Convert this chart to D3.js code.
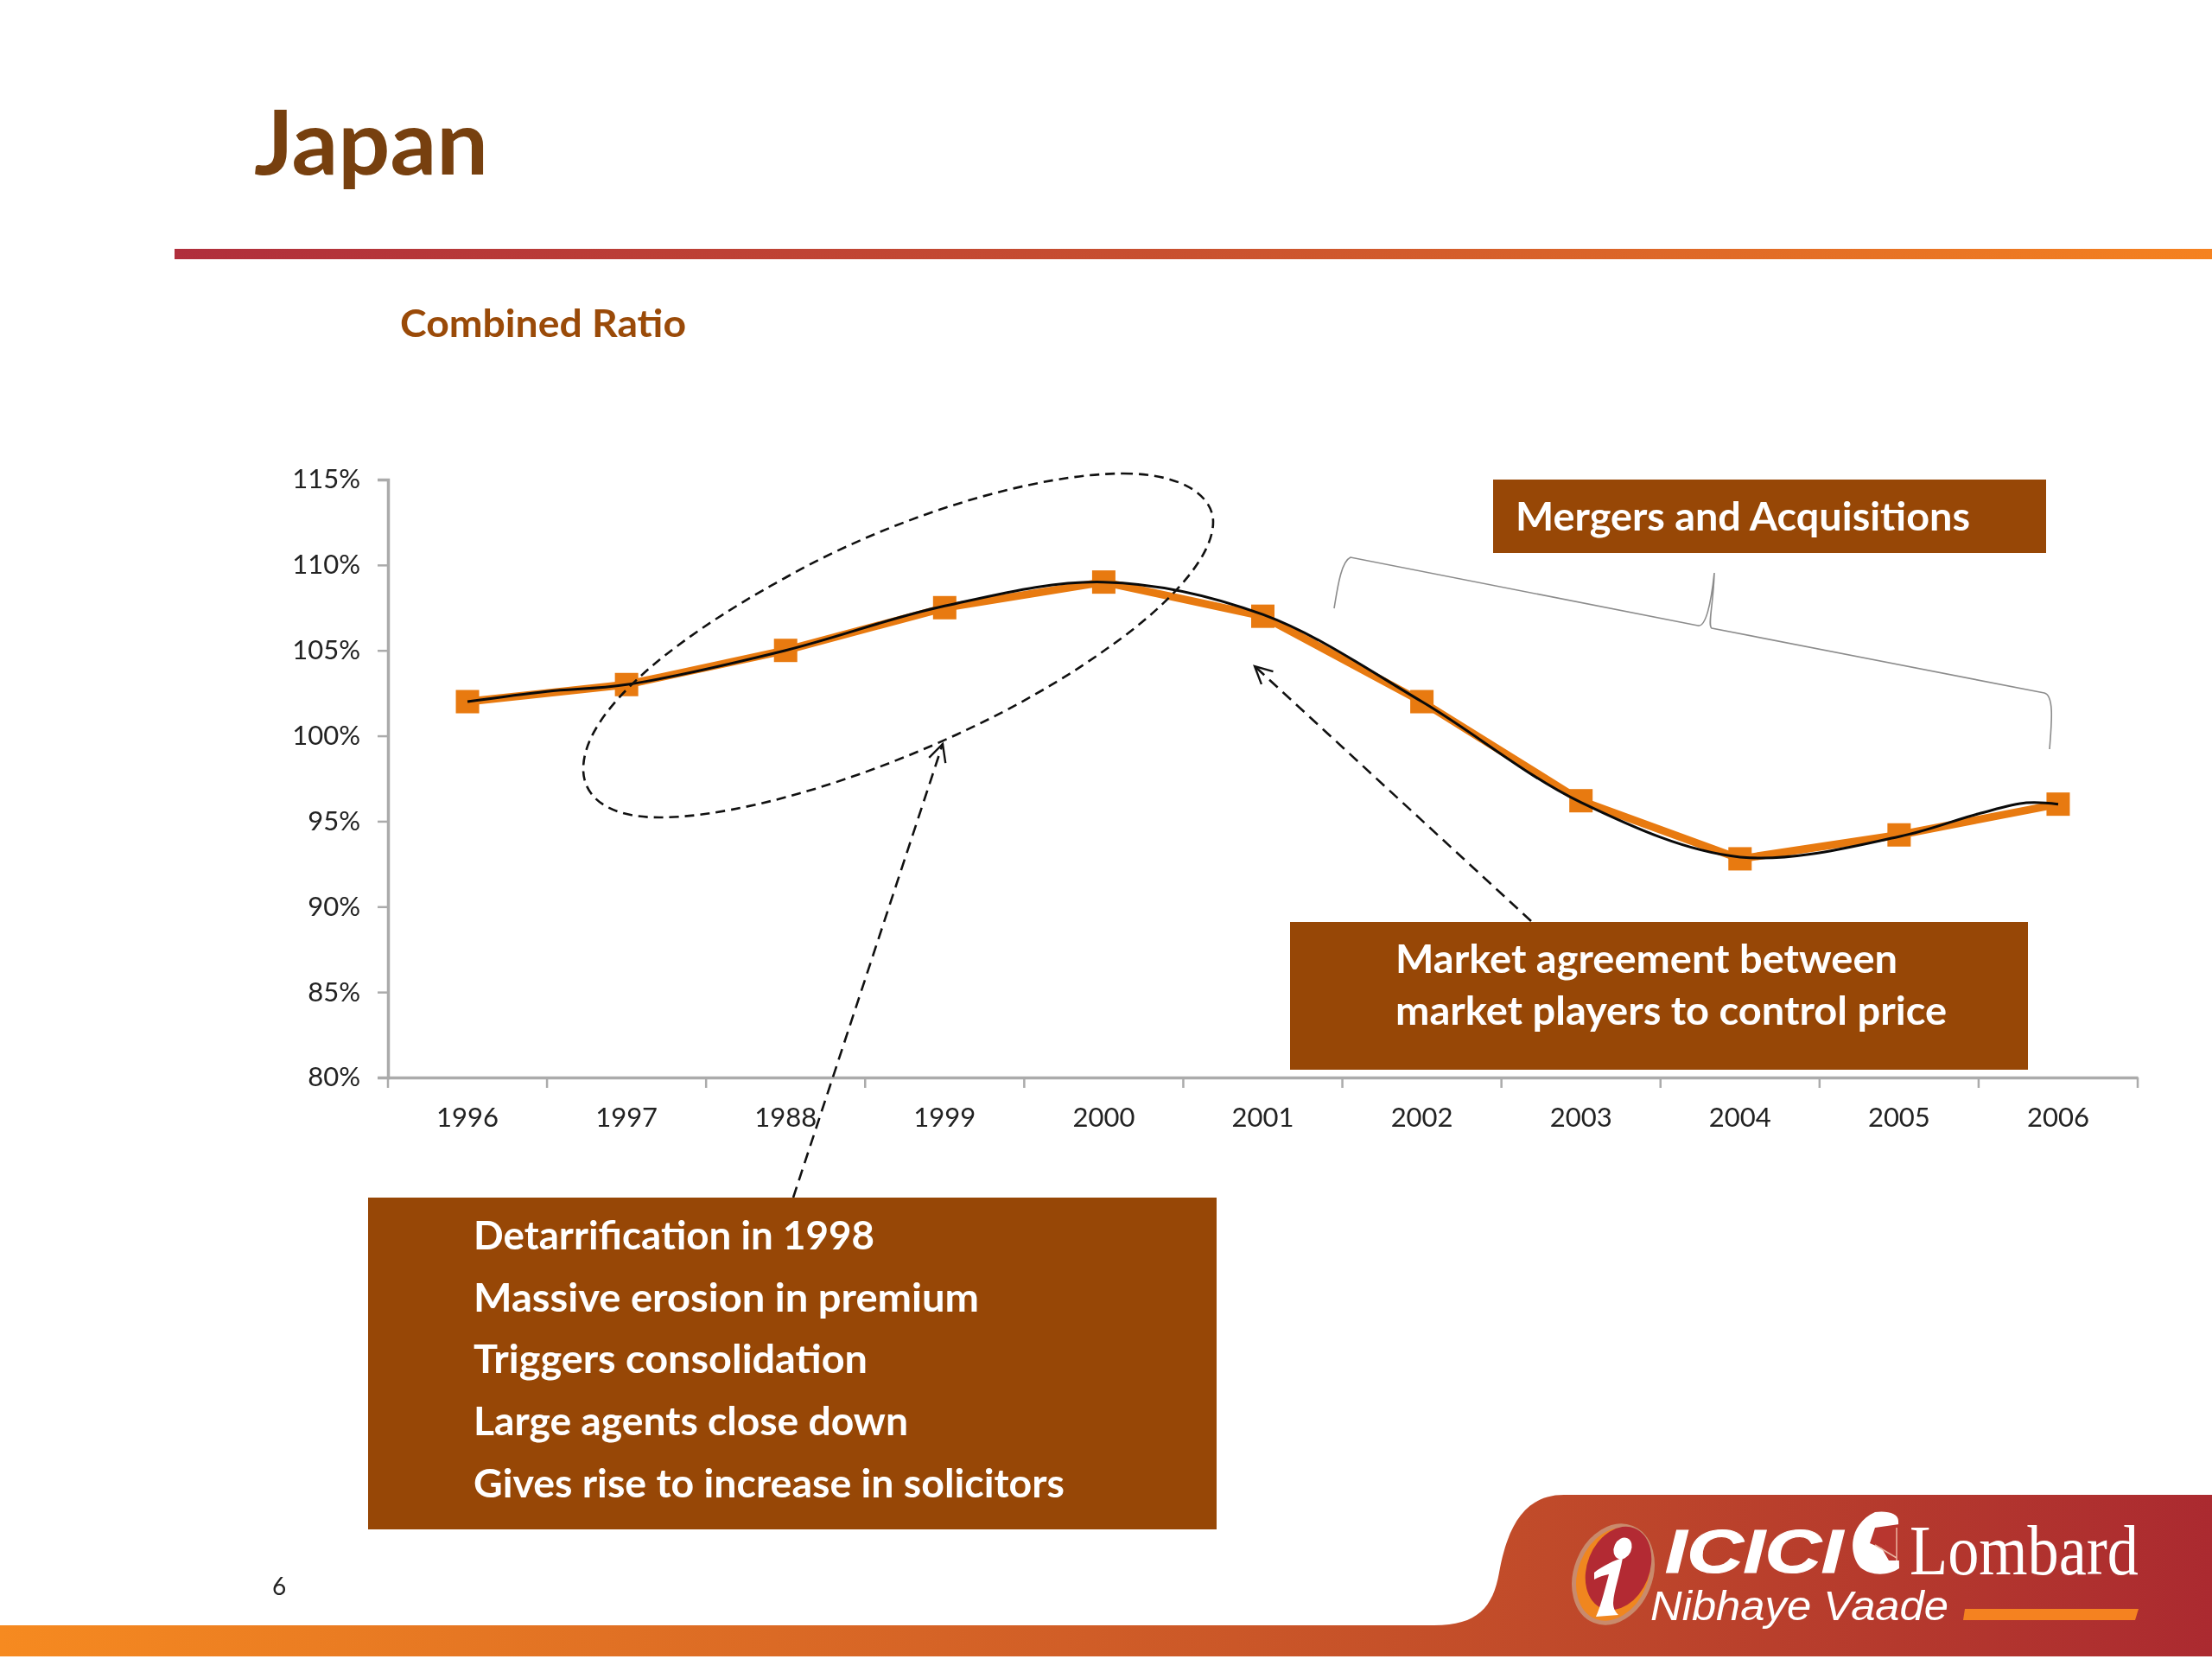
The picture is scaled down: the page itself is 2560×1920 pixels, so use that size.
<!DOCTYPE html>
<html><head><meta charset="utf-8">
<script src="https://cdn.jsdelivr.net/npm/d3@7/dist/d3.min.js"></script>
<style>html,body{margin:0;padding:0;background:#fff}svg{display:block;filter:blur(.7px)}text{font-family:Lato,"Open Sans",sans-serif}</style>
</head><body><svg id="c" width="2560" height="1920"></svg>
<script>
const categories=["1996","1997","1988","1999","2000","2001","2002","2003","2004","2005","2006"];
const combinedRatio=[102,103,105,107.5,109,107,102,96.2,92.8,94.2,96];
const trendIndex=[0,0.5,1,2,3,4,5,6,7,8,9,9.5,9.8,10];
const trendValues=[102,102.6,103,105,107.6,109,107.1,102,96.1,92.9,94.1,95.44,96.08,96];
const yTicks=[80,85,90,95,100,105,110,115];
const detarLines=["Detarrification in 1998","Massive erosion in premium","Triggers consolidation","Large agents close down","Gives rise to increase in solicitors"];
const detarWidths=[464,585,456,503,684];
const marketLines=["Market agreement between","market players to control price"];
const marketWidths=[581,638];

const svg=d3.select("#c");
const defs=svg.append("defs");
function grad(id,stops){const g=defs.append("linearGradient").attr("id",id);stops.forEach(s=>g.append("stop").attr("offset",s[0]).attr("stop-color",s[1]));}
grad("rule",[[0,"#b02e3c"],[.5,"#c9512f"],[1,"#f58220"]]);
const bg=defs.append("linearGradient").attr("id","bottom").attr("gradientUnits","userSpaceOnUse").attr("x1",0).attr("x2",2560).attr("y1",0).attr("y2",0);
[[0,"#f68a20"],[.7,"#c04a2a"],[1,"#ab2a30"]].forEach(s=>bg.append("stop").attr("offset",s[0]).attr("stop-color",s[1]));
const mk=defs.append("marker").attr("id","arrow").attr("viewBox","-22 -12 26 24").attr("markerUnits","userSpaceOnUse").attr("markerWidth",26).attr("markerHeight",24).attr("refX",0).attr("refY",0).attr("orient","auto");
mk.append("path").attr("d","M-20,-10L0,0L-20,10").attr("fill","none").attr("stroke","#111").attr("stroke-width",2.4);

function txt(s,x,y,size,fill,weight,width,anchor){
  const t=svg.append("text").attr("x",x).attr("y",y).attr("font-size",size).attr("fill",fill).attr("font-weight",weight||400).attr("text-anchor",anchor||"start").text(s);
  if(width)t.attr("textLength",width).attr("lengthAdjust","spacingAndGlyphs");
  return t;
}
// header
txt("Japan",294,202,104,"#77400f",700,271);
svg.append("rect").attr("x",202).attr("y",288).attr("width",2358).attr("height",12).attr("fill","url(#rule)");
txt("Combined Ratio",463,390,43,"#9a4a08",700,331);

// scales
const x=d3.scaleBand().domain(d3.range(categories.length)).range([449,2474]);
const y=d3.scaleLinear().domain([80,115]).range([1247,555]);
const cx=i=>x(0)+x.bandwidth()/2+i*x.step();

// axes
const gy=svg.append("g").attr("transform","translate(449,0)").call(d3.axisLeft(y).tickValues(yTicks).tickSize(12).tickPadding(20).tickFormat(d=>d+"%"));
const gx=svg.append("g").attr("transform","translate(0,1247)").call(d3.axisBottom(x).tickSize(0).tickPadding(35).tickFormat(i=>categories[i]));
[gy,gx].forEach(g=>{
  g.selectAll(".domain").attr("stroke","#ababab").attr("stroke-width",3.5);
  g.selectAll(".tick line").attr("stroke","#ababab").attr("stroke-width",2.5);
  g.selectAll("text").attr("font-size",31).attr("fill","#222").style("font-family","Lato");
});
svg.append("g").selectAll("line").data(d3.range(categories.length+1)).join("line")
  .attr("x1",i=>449+i*x.step()).attr("x2",i=>449+i*x.step()).attr("y1",1247).attr("y2",1259).attr("stroke","#ababab").attr("stroke-width",2.5);

// series
const straight=d3.line().x((d,i)=>cx(i)).y(d=>y(d));
svg.append("path").datum(combinedRatio).attr("d",straight).attr("fill","none").attr("stroke","#e87a10").attr("stroke-width",9);
svg.append("g").selectAll("rect").data(combinedRatio).join("rect")
  .attr("x",(d,i)=>cx(i)-13.5).attr("y",d=>y(d)-13.5).attr("width",27).attr("height",27).attr("fill","#e87a10");
const smooth=d3.line().x((d,i)=>cx(trendIndex[i])).y(d=>y(d)).curve(d3.curveCatmullRom.alpha(.5));
svg.append("path").datum(trendValues).attr("d",smooth).attr("fill","none").attr("stroke","#0a0a0a").attr("stroke-width",3);

// annotation ellipse
svg.append("path").attr("d","M1300,548C1370,548 1404,575 1404,604C1404,650 1340,710 1282,750C1130,860 890,946 763,946C700,946 675,920 675,890C675,830 760,750 910,668C1040,595 1200,548 1300,548Z").attr("fill","none").attr("stroke","#111").attr("stroke-width",2.6).attr("stroke-dasharray","11 7");
// arrows
[[[918,1386],[1091,861]],[[1772,1066],[1452,771]]].forEach(p=>{
  svg.append("line").attr("x1",p[0][0]).attr("y1",p[0][1]).attr("x2",p[1][0]).attr("y2",p[1][1]).attr("stroke","#111").attr("stroke-width",2.6).attr("stroke-dasharray","13 8").attr("marker-end","url(#arrow)");
});
// brace
svg.append("path").attr("d","M1544,704C1548,680 1552,650 1563,645L1965,724C1974,726 1980,700 1984,663C1983,700 1976,724 1981,727L2366,802C2378,805 2374,840 2372,867").attr("fill","none").attr("stroke","#8c8c8c").attr("stroke-width",1.6);

// boxes
const boxFill="#974706";
[[1728,555,640,85],[1493,1067,854,171],[426,1386,982,384]].forEach(b=>svg.append("rect").attr("x",b[0]).attr("y",b[1]).attr("width",b[2]).attr("height",b[3]).attr("fill",boxFill));
txt("Mergers and Acquisitions",1754,614,46,"#fff",700,526);
marketLines.forEach((s,i)=>txt(s,1615,1126+i*60,46,"#fff",700,marketWidths[i]));
detarLines.forEach((s,i)=>txt(s,548,1446+i*71.7,46,"#fff",700,detarWidths[i]));
txt("6",315,1846,28,"#222",400);

// footer
svg.append("path").attr("d","M0,1881L1660,1881C1710,1881 1728,1860 1735,1820C1745,1765 1765,1730 1810,1730L2560,1730L2560,1917L0,1917Z").attr("fill","url(#bottom)");

// logo
const logo=svg.append("g");
logo.append("ellipse").attr("cx",1867).attr("cy",1822).attr("rx",43).attr("ry",58).attr("transform","rotate(22 1867 1822)").attr("fill","#f0861f").attr("stroke","#c98a6c").attr("stroke-width",5);
logo.append("ellipse").attr("cx",1873).attr("cy",1815).attr("rx",36).attr("ry",50).attr("transform","rotate(22 1873 1815)").attr("fill","#b32a33");
logo.append("ellipse").attr("cx",1878).attr("cy",1792).attr("rx",10).attr("ry",13).attr("transform","rotate(25 1878 1792)").attr("fill","#fff");
logo.append("path").attr("d","M1845,1820C1855,1812 1868,1806 1878,1803C1874,1825 1868,1840 1867,1855C1867,1862 1870,1866 1873,1869L1847,1871C1852,1860 1856,1845 1862,1822C1856,1823 1850,1825 1845,1828Z").attr("fill","#fff");
txt("ICICI",1927,1820,70,"#fff",700,206).style("font-family","Liberation Sans").style("font-style","italic").attr("stroke","#fff").attr("stroke-width",1);
logo.append("path").attr("d","M2170,1750C2185,1748 2197,1752 2197,1760L2198,1815C2185,1824 2165,1824 2153,1814C2140,1800 2138,1765 2170,1750Z").attr("fill","#fff");
logo.append("path").attr("d","M2170,1768L2198,1764L2198,1806L2186,1806L2178,1792L2164,1786Z").attr("fill","#b8362f");
logo.append("path").attr("d","M2170,1788L2195,1803M2195,1768L2195,1806").attr("fill","none").attr("stroke","#eab4a0").attr("stroke-width",1.5);
txt("Lombard",2210,1822,82,"#fff",400,265).style("font-family","Liberation Serif");
txt("Nibhaye Vaade",1910,1875,48,"#fff",400,345).style("font-family","Liberation Sans").style("font-style","italic");
logo.append("path").attr("d","M2274,1862L2475,1862L2471,1875L2272,1875Z").attr("fill","#f58220");
</script></body></html>
